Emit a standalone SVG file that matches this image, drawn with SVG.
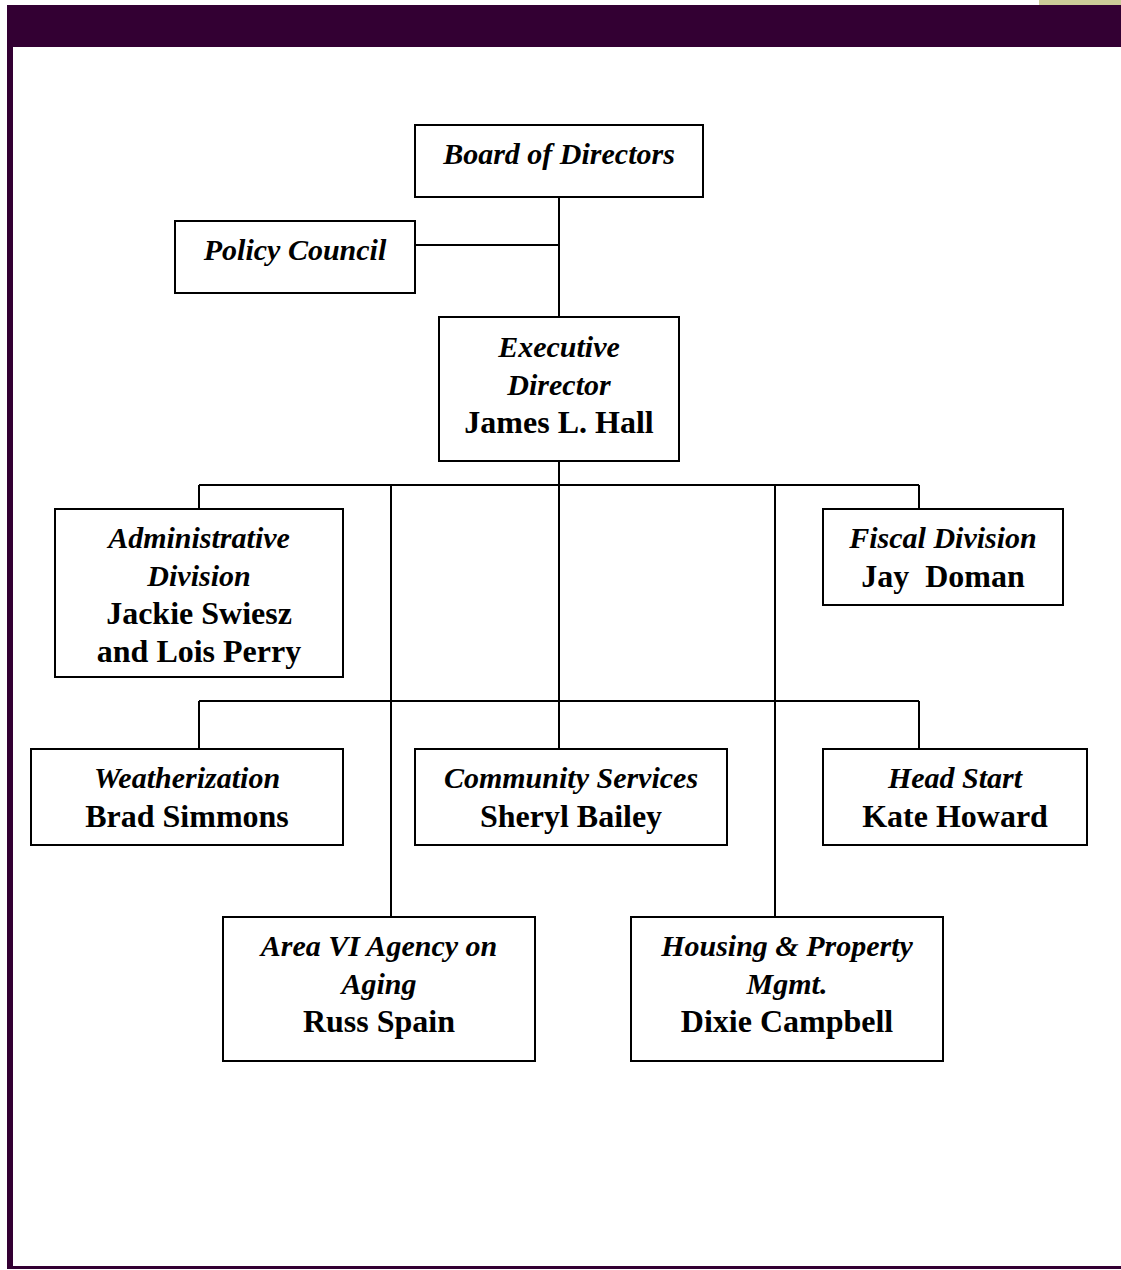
<svg xmlns="http://www.w3.org/2000/svg" width="1121" height="1270" viewBox="0 0 1121 1270">
<style>
.box{fill:#fff;stroke:#000;stroke-width:2}
.ln{stroke:#000;stroke-width:2;fill:none}
text{font-family:"Liberation Serif","Times New Roman",serif;font-size:32px;text-anchor:middle;fill:#000;font-weight:bold}
.t{font-style:italic;font-size:30px}
</style>
<rect x="0" y="0" width="1121" height="1270" fill="#fff"/>
<rect x="1039" y="0" width="82" height="5" fill="#cccc99"/>
<rect x="7" y="5" width="1114" height="42" fill="#330033"/>
<rect x="7" y="47" width="6" height="1222" fill="#330033"/>
<rect x="7" y="1266" width="1114" height="3" fill="#330033"/>
<g id="connectors">
<path class="ln" d="M559 197V317M415 245H559"/>
<path class="ln" d="M559 461V749M199 485H919M199 485V509M919 485V509M391 485V917M775 485V917M199 701H919M199 701V749M919 701V749"/>
</g>
<g id="board"><rect class="box" x="415" y="125" width="288" height="72"/><text class="t" x="559" y="164">Board of Directors</text></g>
<g id="policy"><rect class="box" x="175" y="221" width="240" height="72"/><text class="t" x="295" y="260">Policy Council</text></g>
<g id="exec"><rect class="box" x="439" y="317" width="240" height="144"/><text class="t" x="559" y="357">Executive</text><text class="t" x="559" y="395">Director</text><text x="559" y="433">James L. Hall</text></g>
<g id="admin"><rect class="box" x="55" y="509" width="288" height="168"/><text class="t" x="199" y="548">Administrative</text><text class="t" x="199" y="586">Division</text><text x="199" y="624">Jackie Swiesz</text><text x="199" y="662">and Lois Perry</text></g>
<g id="fiscal"><rect class="box" x="823" y="509" width="240" height="96"/><text class="t" x="943" y="548">Fiscal Division</text><text x="943" y="587" xml:space="preserve">Jay  Doman</text></g>
<g id="weather"><rect class="box" x="31" y="749" width="312" height="96"/><text class="t" x="187" y="788">Weatherization</text><text x="187" y="827">Brad Simmons</text></g>
<g id="community"><rect class="box" x="415" y="749" width="312" height="96"/><text class="t" x="571" y="788">Community Services</text><text x="571" y="827">Sheryl Bailey</text></g>
<g id="headstart"><rect class="box" x="823" y="749" width="264" height="96"/><text class="t" x="955" y="788">Head Start</text><text x="955" y="827">Kate Howard</text></g>
<g id="aging"><rect class="box" x="223" y="917" width="312" height="144"/><text class="t" x="379" y="956">Area VI Agency on</text><text class="t" x="379" y="994">Aging</text><text x="379" y="1032">Russ Spain</text></g>
<g id="housing"><rect class="box" x="631" y="917" width="312" height="144"/><text class="t" x="787" y="956">Housing &amp; Property</text><text class="t" x="787" y="994">Mgmt.</text><text x="787" y="1032">Dixie Campbell</text></g>
</svg>
